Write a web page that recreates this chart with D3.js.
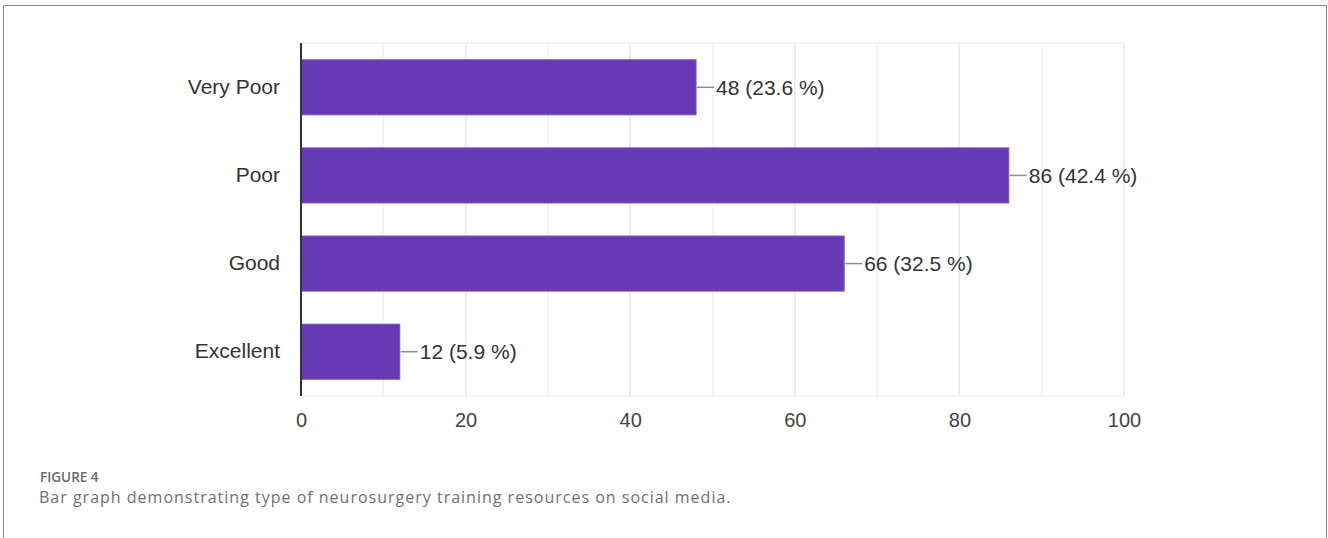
<!DOCTYPE html>
<html>
<head>
<meta charset="utf-8">
<script src="https://cdn.jsdelivr.net/npm/d3@7"></script>
<style>
  html, body { margin: 0; padding: 0; background: #ffffff; }
  svg { display: block; }
</style>
</head>
<body>
<svg id="chart" width="1328" height="538"></svg>
<script>
// Survey ratings and response counts
const categories = ["Very Poor", "Poor", "Good", "Excellent"];
const counts = [48, 86, 66, 12];
const percents = ["23.6", "42.4", "32.5", "5.9"];
const tickValues = [0, 20, 40, 60, 80, 100];
const gridValues = [10, 20, 30, 40, 50, 60, 70, 80, 90, 100];

const figureLabel = "FIGURE 4";
const captionText = "Bar graph demonstrating type of neurosurgery training resources on social media.";

const W = 1328, H = 538;
const plot = { left: 301, right: 1124, top: 43, bottom: 396 };

const svg = d3.select("#chart");

// Figure frame (open at the bottom edge)
svg.append("path")
  .attr("d", `M3.5,${H} L3.5,5.5 L1326.5,5.5 L1326.5,${H}`)
  .attr("fill", "none")
  .attr("stroke", "#8a8a8a")
  .attr("stroke-width", 1);

const x = d3.scaleLinear().domain([0, 100]).range([plot.left, plot.right]);
const y = d3.scaleBand().domain(categories).range([plot.top, plot.bottom])
  .paddingInner(0.375).paddingOuter(0.19);

// Vertical grid lines
svg.append("g").selectAll("line")
  .data(gridValues)
  .join("line")
  .attr("x1", d => x(d)).attr("x2", d => x(d))
  .attr("y1", plot.top).attr("y2", plot.bottom)
  .attr("stroke", d => d % 20 === 0 ? "#e6e6e6" : "#f1f1f1")
  .attr("stroke-width", 1.5);

// Faint top and bottom edges of the plot area
svg.append("g").selectAll("line")
  .data([plot.top, plot.bottom])
  .join("line")
  .attr("x1", plot.left).attr("x2", plot.right)
  .attr("y1", d => d).attr("y2", d => d)
  .attr("stroke", "#f0f0f0")
  .attr("stroke-width", 1.5);

// Bars
svg.append("g").selectAll("rect")
  .data(categories)
  .join("rect")
  .attr("x", x(0))
  .attr("y", d => y(d))
  .attr("width", (d, i) => x(counts[i]) - x(0))
  .attr("height", y.bandwidth())
  .attr("fill", "#6639b5")
  .attr("stroke", "#7a55c4")
  .attr("stroke-width", 1);

// Leader lines and value labels
const labels = svg.append("g");
categories.forEach((c, i) => {
  const cy = y(c) + y.bandwidth() / 2;
  const xe = x(counts[i]);
  labels.append("line")
    .attr("x1", xe + 1).attr("x2", xe + 18)
    .attr("y1", cy).attr("y2", cy)
    .attr("stroke", "#8f8f8f").attr("stroke-width", 1.5);
  labels.append("text")
    .attr("x", xe + 20).attr("y", cy)
    .attr("dy", "0.36em")
    .attr("font-family", "'Liberation Sans', Arial, sans-serif")
    .attr("font-size", 21)
    .attr("fill", "#333333")
    .text(`${counts[i]} (${percents[i]} %)`);
});

// Y axis: category labels and line
const yAxis = d3.axisLeft(y).tickSize(0).tickPadding(21);
const gy = svg.append("g").attr("transform", `translate(${plot.left},0)`).call(yAxis);
gy.select(".domain").remove();
gy.selectAll("text")
  .attr("font-family", "'Liberation Sans', Arial, sans-serif")
  .attr("font-size", 21)
  .attr("fill", "#333333");

svg.append("line")
  .attr("x1", plot.left).attr("x2", plot.left)
  .attr("y1", plot.top).attr("y2", plot.bottom)
  .attr("stroke", "#333333").attr("stroke-width", 2);

// X axis tick labels
const xAxis = d3.axisBottom(x).tickValues(tickValues).tickSize(0).tickPadding(17)
  .tickFormat(d3.format("d"));
const gx = svg.append("g").attr("transform", `translate(0,${plot.bottom})`).call(xAxis);
gx.select(".domain").remove();
gx.selectAll("text")
  .attr("font-family", "'Liberation Sans', Arial, sans-serif")
  .attr("font-size", 20)
  .attr("fill", "#444444");

// Caption
svg.append("text")
  .attr("x", 40).attr("y", 482)
  .attr("font-family", "'Open Sans', sans-serif")
  .attr("font-size", 13.5)
  .attr("font-weight", 600)
  .attr("fill", "#6a6a6a")
  .text(figureLabel);

svg.append("text")
  .attr("x", 39).attr("y", 503)
  .attr("font-family", "'Open Sans', sans-serif")
  .attr("font-size", 16)
  .attr("letter-spacing", 1)
  .attr("fill", "#707070")
  .text(captionText);
</script>
</body>
</html>
